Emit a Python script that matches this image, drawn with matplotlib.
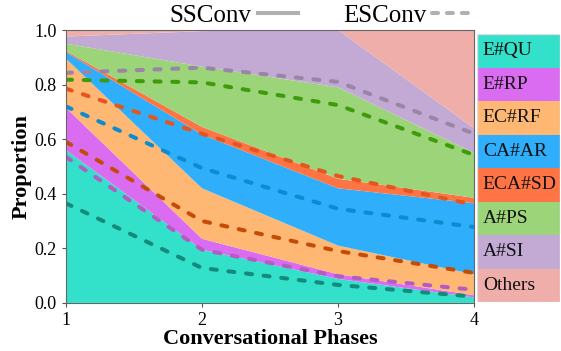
import numpy as np
import matplotlib.pyplot as plt
from matplotlib.lines import Line2D
from matplotlib.patches import Rectangle

plt.rcParams['font.family'] = ['Liberation Serif', 'DejaVu Serif']

# 对话阶段与策略类别
phases = [1, 2, 3, 4]
strategies = ["E#QU", "E#RP", "EC#RF", "CA#AR", "ECA#SD", "A#PS", "A#SI", "Others"]

# SSConv 各阶段的策略占比（自下而上堆叠）
ss_equ = [0.560, 0.195, 0.088, 0.020]
ss_erp = [0.155, 0.040, 0.017, 0.008]
ss_ecrf = [0.180, 0.185, 0.105, 0.077]
ss_caar = [0.024, 0.197, 0.210, 0.260]
ss_ecasd = [0.004, 0.028, 0.035, 0.020]
ss_aps = [0.027, 0.221, 0.335, 0.165]
ss_asi = [0.026, 0.130, 0.210, 0.090]
ss_others = [0.024, 0.004, 0.000, 0.360]

# ESConv 各阶段的策略占比
es_equ = [0.365, 0.128, 0.066, 0.023]
es_erp = [0.170, 0.067, 0.032, 0.025]
es_ecrf = [0.055, 0.105, 0.092, 0.062]
es_caar = [0.130, 0.194, 0.155, 0.168]
es_ecasd = [0.065, 0.126, 0.120, 0.082]
es_aps = [0.033, 0.188, 0.260, 0.182]
es_asi = [0.025, 0.054, 0.085, 0.078]
es_others = [0.157, 0.138, 0.190, 0.380]

fill_colors = ["#33e0c9", "#da6cf2", "#ffb873", "#2eaefb",
               "#fe7445", "#9cd479", "#c3aad5", "#f0aeab"]
line_colors = ["#138a7c", "#b45cc4", "#c44c06", "#0d8bd0",
               "#e3561f", "#3e9c0a", "#9a85a6", "#c08080"]

ss = np.array([ss_equ, ss_erp, ss_ecrf, ss_caar, ss_ecasd, ss_aps, ss_asi, ss_others])
es = np.array([es_equ, es_erp, es_ecrf, es_caar, es_ecasd, es_aps, es_asi, es_others])

fig = plt.figure(figsize=(5.61, 3.51), dpi=100)
ax = fig.add_axes([0.1176, 0.137, 0.7274, 0.7775])

ax.stackplot(phases, ss, colors=fill_colors, linewidth=0)

# ESConv 累计占比画成虚线（最上层 Others 恒为 1，不画）
es_cum = np.cumsum(es, axis=0)
for i in range(len(strategies) - 1):
    ax.plot(phases, es_cum[i], color=line_colors[i], lw=2.9,
            linestyle=(0, (1.5, 2.9)), dash_capstyle='round')

ax.set_xlim(1, 4)
ax.set_ylim(0, 1)
ax.set_xticks(phases)
ax.set_yticks([0, 0.2, 0.4, 0.6, 0.8, 1.0])
ax.set_yticklabels(["0.0", "0.2", "0.4", "0.6", "0.8", "1.0"])
ax.tick_params(labelsize=13, color="#555555", length=3)
for s in ax.spines.values():
    s.set_color("#666666")
    s.set_linewidth(0.8)
ax.set_xlabel("Conversational Phases", fontsize=16, fontweight='bold', labelpad=0)
ax.set_ylabel("Proportion", fontsize=16, fontweight='bold', labelpad=2)

# 顶部图例：实线 SSConv，虚线 ESConv
handles = [Line2D([], [], color="#b0b0b0", lw=2.9),
           Line2D([], [], color="#b0b0b0", lw=2.9, linestyle=(0, (1.5, 2.2)),
                  dash_capstyle='round')]
fig.legend(handles, ["SSConv", "ESConv"], loc='lower center',
           bbox_to_anchor=(321 / 561, 1 - 27 / 351),
           ncol=2, frameon=False, markerfirst=False, fontsize=18,
           handlelength=1.6, columnspacing=1.8, handletextpad=0.25, borderaxespad=0,
           borderpad=0)

# 右侧色块图例
lax = fig.add_axes([477 / 561, 1 - 302 / 351, 83 / 561, 268 / 351])
lax.set_xlim(0, 1)
lax.set_ylim(0, len(strategies))
lax.axis('off')
for i, name in enumerate(strategies):
    y = len(strategies) - 1 - i
    lax.add_patch(Rectangle((0, y), 1, 1, facecolor=fill_colors[i], edgecolor='none'))
    lax.text(0.07, y + 0.5, name, fontsize=14, va='center', ha='left', color="#111111")
lax.add_patch(Rectangle((0, 0), 1, len(strategies), facecolor='none',
                        edgecolor="#dddddd", lw=1.0))

fig.savefig("out.png", dpi=100)
